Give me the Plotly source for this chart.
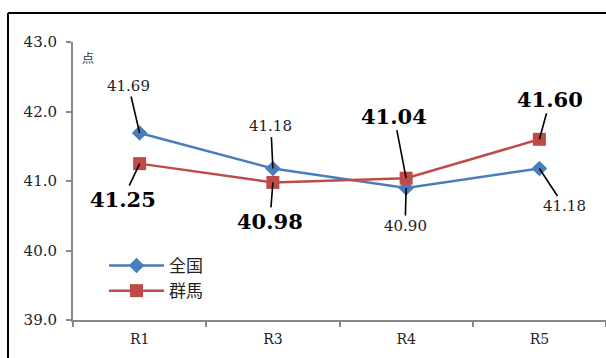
import plotly.graph_objects as go

# Survey years and average scores (points)
years = ["R1", "R3", "R4", "R5"]
national = [41.69, 41.18, 40.90, 41.18]   # 全国
gunma = [41.25, 40.98, 41.04, 41.60]      # 群馬

# Label offsets (pixels from each point to its label)
national_offsets = [(-11, -47), (-2, -42), (-1, 38), (25, 38)]
gunma_offsets = [(-17, 36), (-3, 39), (-12, -62), (11, -40)]

W, H = 606, 358
L, R, T, B = 73, 0, 42, 38
pw, ph = W - L - R, H - T - B

SERIF = "DejaVu Serif"
CJK = "Noto Sans CJK JP"
AXIS_GREY = "#888888"
BLUE = "#4A7EBB"
RED = "#BE4B48"


def px_x(px):
    return (px - L) / pw


def px_y(py):
    return 1 - (py - T) / ph


fig = go.Figure()
fig.add_trace(go.Scatter(
    x=years, y=national, name="全国", mode="lines+markers",
    line=dict(color=BLUE, width=2.5),
    marker=dict(symbol="diamond", size=12, color=BLUE),
))
fig.add_trace(go.Scatter(
    x=years, y=gunma, name="群馬", mode="lines+markers",
    line=dict(color=RED, width=2.5),
    marker=dict(symbol="square", size=13, color=RED),
))

annotations = []
for yr, v, (dx, dy) in zip(years, national, national_offsets):
    annotations.append(dict(
        x=yr, y=v, text=f"{v:.2f}", showarrow=True, arrowhead=0,
        arrowwidth=1.6, arrowcolor="black", ax=dx, ay=dy,
        font=dict(family=SERIF, size=15, color="#222222"),
    ))
for yr, v, (dx, dy) in zip(years, gunma, gunma_offsets):
    annotations.append(dict(
        x=yr, y=v, text=f"<b>{v:.2f}</b>", showarrow=True, arrowhead=0,
        arrowwidth=1.6, arrowcolor="black", ax=dx, ay=dy,
        font=dict(family=SERIF, size=21, color="black"),
    ))
# unit label
annotations.append(dict(
    x=px_x(80), y=px_y(57), xref="paper", yref="paper", text="点",
    showarrow=False, xanchor="left", yanchor="middle",
    font=dict(family=CJK, size=12, color="#333333"),
))

# outer frame (top and left edges)
frame = [
    dict(type="line", xref="paper", yref="paper",
         x0=px_x(8), x1=1, y0=px_y(13), y1=px_y(13),
         line=dict(color="black", width=2)),
    dict(type="line", xref="paper", yref="paper",
         x0=px_x(8), x1=px_x(8), y0=px_y(13), y1=px_y(H),
         line=dict(color="black", width=2)),
]

fig.update_layout(
    width=W, height=H,
    margin=dict(l=L, r=R, t=T, b=B, pad=0),
    paper_bgcolor="white", plot_bgcolor="white",
    showlegend=True,
    legend=dict(
        x=px_x(104), y=px_y(248), xanchor="left", yanchor="top",
        font=dict(family=CJK, size=17, color="#222222"),
        bgcolor="rgba(0,0,0,0)", tracegroupgap=0, itemwidth=55,
    ),
    annotations=annotations,
    shapes=frame,
)
fig.update_xaxes(
    type="category", range=[-0.5, len(years) - 0.5],
    showgrid=False, zeroline=False,
    showline=True, linecolor=AXIS_GREY, linewidth=2,
    ticks="outside", tickson="boundaries", ticklen=5,
    tickcolor=AXIS_GREY, tickwidth=2, ticklabelstandoff=5,
    tickfont=dict(family=SERIF, size=14, color="#222222"),
)
fig.update_yaxes(
    range=[39, 43], dtick=1, tickformat=".1f",
    showgrid=False, zeroline=False,
    showline=True, linecolor=AXIS_GREY, linewidth=2,
    ticks="outside", ticklen=5, tickcolor=AXIS_GREY, tickwidth=2,
    ticklabelstandoff=6,
    tickfont=dict(family=SERIF, size=15, color="#222222"),
)

fig.write_html("out.html")
